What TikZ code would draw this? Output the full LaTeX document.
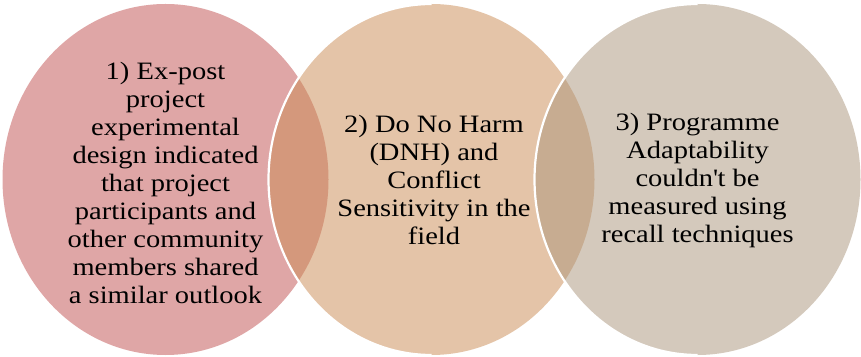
\documentclass[tikz,border=0pt]{standalone}
\usepackage{fontspec}
\setmainfont{Liberation Serif}[FakeStretch=1.14]
\usetikzlibrary{shapes.geometric}
\definecolor{cpink}{HTML}{C14F4F}
\definecolor{cpeach}{HTML}{CB8B53}
\definecolor{cgray}{HTML}{AB957B}
\tikzset{
  venn/.style={ellipse, draw=none, inner sep=0pt, outer sep=0pt,
    minimum width=326pt, minimum height=351pt, fill opacity=0.5},
  rim/.style={white, line width=2.2pt},
  txt/.style={align=center, text=black, inner sep=0pt,
    font=\fontsize{25}{28}\selectfont}
}
\begin{document}
\begin{tikzpicture}[x=1pt,y=1pt]
\fill[white] (0,0) rectangle (861,356);
\useasboundingbox (0,0) rectangle (861,356);
\node[venn, fill=cpink] (c1) at (165.5,176.5) {};
\node[venn, fill=cpeach] (c2) at (431.5,176.5) {};
\draw[rim] (c2.north) arc[start angle=90, end angle=270, x radius=163pt, y radius=175.5pt];
\node[venn, fill=cgray] (c3) at (697.5,176.5) {};
\draw[rim] (c3.north) arc[start angle=90, end angle=270, x radius=163pt, y radius=175.5pt];
\node[txt] (t1) at (165.5,173) {1) Ex-post\\project\\experimental\\design indicated\\that project\\participants and\\other community\\members shared\\a similar outlook};
\node[txt] (t2) at (434,176) {2) Do No Harm\\(DNH) and\\Conflict\\Sensitivity in the\\field};
\node[txt] (t3) at (697.5,176) {3) Programme\\Adaptability\\couldn\textquotesingle t be\\measured using\\recall techniques};
\end{tikzpicture}
\end{document}
